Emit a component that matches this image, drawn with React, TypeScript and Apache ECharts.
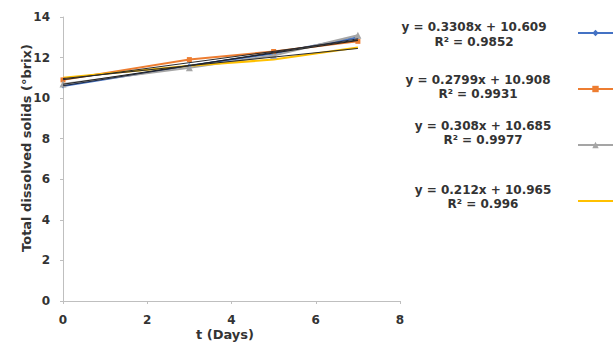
import React, { useEffect, useRef } from "react";
import * as echarts from "echarts";

const days = [0, 3, 5, 7];
const seriesNames = ["A", "B", "C", "D"];
const seriesA = [10.6, 11.6, 12.2, 13.0];
const seriesB = [10.9, 11.9, 12.3, 12.8];
const seriesC = [10.7, 11.5, 12.1, 13.1];
const seriesD = [11.0, 11.6, 11.9, 12.5];
const slopes = [0.3308, 0.2799, 0.308, 0.212];
const intercepts = [10.609, 10.908, 10.685, 10.965];
const equationLabels = [
  "y = 0.3308x + 10.609",
  "y = 0.2799x + 10.908",
  "y = 0.308x + 10.685",
  "y = 0.212x + 10.965",
];
const r2Labels = ["R² = 0.9852", "R² = 0.9931", "R² = 0.9977", "R² = 0.996"];
const xTicks = [0, 2, 4, 6, 8];
const yTicks = [0, 2, 4, 6, 8, 10, 12, 14];
const xTitle = "t (Days)";
const yTitle = "Total dissolved solids (°brix)";

const colors = ["#4472C4", "#ED7D31", "#A5A5A5", "#FFC000"];
const symbols = ["diamond", "rect", "triangle", "none"];
const trendColors = ["#1f2a44", "#2a2a2a", "#222222", "#2a2a2a"];

export default function App() {
  const ref = useRef<HTMLDivElement>(null);
  useEffect(() => {
    if (!ref.current) return;
    const chart = echarts.init(ref.current, undefined, { renderer: "svg" });
    const allData = [seriesA, seriesB, seriesC, seriesD];
    const font = "'DejaVu Sans', Verdana, sans-serif";
    const textColor = "#333333";
    const dataSeries = allData.map((vals, i) => ({
      name: seriesNames[i],
      type: "line",
      data: vals.map((v, j) => [days[j], v]),
      symbol: symbols[i],
      symbolSize: i === 2 ? 7 : 5,
      showSymbol: true,
      lineStyle: { color: colors[i], width: 2 },
      itemStyle: { color: colors[i] },
      z: 2,
    }));
    const trendSeries = slopes.map((s, i) => ({
      name: "trend" + i,
      type: "line",
      data: [
        [days[0], intercepts[i] + s * days[0]],
        [days[days.length - 1], intercepts[i] + s * days[days.length - 1]],
      ],
      symbol: "none",
      lineStyle: { color: trendColors[i], width: 1 },
      z: 3,
      silent: true,
    }));
    const eqX = [474, 478, 483, 483];
    const eqY = [27, 80, 126, 190];
    const r2Y = [42, 94, 140, 204];
    const graphics: any[] = [];
    equationLabels.forEach((t, i) => {
      graphics.push({
        type: "text",
        style: {
          text: t,
          x: eqX[i],
          y: eqY[i],
          textAlign: "center",
          textVerticalAlign: "middle",
          fill: textColor,
          font: "bold 12px " + font,
        },
      });
      graphics.push({
        type: "text",
        style: {
          text: r2Labels[i],
          x: eqX[i],
          y: r2Y[i],
          textAlign: "center",
          textVerticalAlign: "middle",
          fill: textColor,
          font: "bold 12px " + font,
        },
      });
    });
    graphics.push({
      type: "text",
      x: 26,
      y: 148,
      rotation: Math.PI / 2,
      style: {
        text: yTitle,
        x: 0,
        y: 0,
        textAlign: "center",
        textVerticalAlign: "middle",
        fill: textColor,
        font: "bold 13px " + font,
      },
    });
    graphics.push({
      type: "text",
      style: {
        text: xTitle,
        x: 225,
        y: 334,
        textAlign: "center",
        textVerticalAlign: "middle",
        fill: textColor,
        font: "bold 13px " + font,
      },
    });
    const legendData = seriesNames.map((n, i) =>
      i === 3 ? { name: n, icon: "path://M0,0 L36,0 L36,2 L0,2 Z" } : { name: n }
    );
    chart.setOption({
      animation: false,
      backgroundColor: "#ffffff",
      grid: { left: 63, right: 216, top: 17, bottom: 50, containLabel: false },
      legend: {
        orient: "vertical",
        left: 572,
        top: 22,
        itemWidth: 35,
        itemHeight: 8,
        itemGap: 44,
        data: legendData,
        textStyle: { fontFamily: font, fontWeight: "bold", fontSize: 12, color: textColor },
      },
      xAxis: {
        type: "value",
        min: xTicks[0],
        max: xTicks[xTicks.length - 1],
        interval: 2,
        axisLine: { lineStyle: { color: "#bfbfbf" } },
        axisTick: { show: true, length: 3, inside: false, lineStyle: { color: "#bfbfbf" } },
        axisLabel: { fontFamily: font, fontWeight: "bold", fontSize: 12, color: textColor, margin: 13 },
        splitLine: { show: false },
      },
      yAxis: {
        type: "value",
        min: yTicks[0],
        max: yTicks[yTicks.length - 1],
        interval: 2,
        axisLine: { show: true, lineStyle: { color: "#bfbfbf" } },
        axisTick: { show: true, length: 3, lineStyle: { color: "#bfbfbf" } },
        axisLabel: { fontFamily: font, fontWeight: "bold", fontSize: 12, color: textColor, margin: 13 },
        splitLine: { show: false },
      },
      graphic: graphics,
      series: [...dataSeries, ...trendSeries],
    });
    return () => chart.dispose();
  }, []);
  return <div ref={ref} style={{ width: 616, height: 351, position: "absolute", left: 0, top: 0 }} />;
}
